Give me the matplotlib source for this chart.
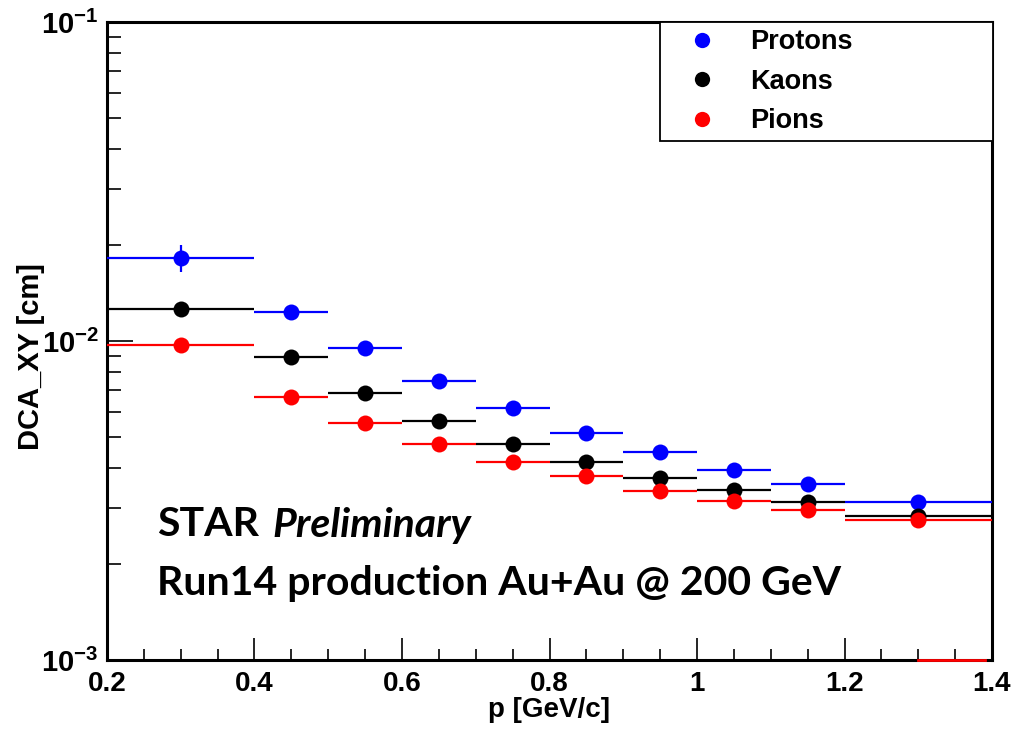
import numpy as np
import matplotlib
matplotlib.use('Agg')
import matplotlib.pyplot as plt
from matplotlib.ticker import LogLocator, FixedLocator, FuncFormatter, MultipleLocator, NullFormatter
from matplotlib.lines import Line2D

# ---- data ----
bin_low = [0.2, 0.4, 0.5, 0.6, 0.7, 0.8, 0.9, 1.0, 1.1, 1.2]
bin_high = [0.4, 0.5, 0.6, 0.7, 0.8, 0.9, 1.0, 1.1, 1.2, 1.4]
p_center = [0.3, 0.45, 0.55, 0.65, 0.75, 0.85, 0.95, 1.05, 1.15, 1.3]
protons = [0.0182, 0.0123, 0.0095, 0.0075, 0.00615, 0.00516, 0.00448, 0.00394, 0.00355, 0.00313]
protons_err = [0.0018, 0, 0, 0, 0, 0, 0, 0, 0, 0]
kaons = [0.0126, 0.00893, 0.00689, 0.00563, 0.00474, 0.00418, 0.00372, 0.00341, 0.00313, 0.00283]
pions = [0.00972, 0.00669, 0.00552, 0.00475, 0.00418, 0.00377, 0.00339, 0.00316, 0.00295, 0.00275]
pion_floor_x = [1.3, 1.39]   # stray red segment along the bottom frame
series_names = ['Protons', 'Kaons', 'Pions']
series_colors = ['#0000ff', '#000000', '#ff0000']

plt.rcParams['font.family'] = ['Liberation Sans', 'DejaVu Sans']
plt.rcParams['font.weight'] = 'bold'
plt.rcParams['mathtext.fontset'] = 'custom'
plt.rcParams['mathtext.rm'] = 'Liberation Sans:bold'
plt.rcParams['mathtext.bf'] = 'Liberation Sans:bold'
plt.rcParams['mathtext.it'] = 'Liberation Sans:bold:italic'

fig = plt.figure(figsize=(10.30, 7.36), dpi=100)
L, R, T, B = 107, 992, 22, 660
ax = fig.add_axes([L / 1030, 1 - B / 736, (R - L) / 1030, (B - T) / 736])

x = np.array(p_center)
xlo = x - np.array(bin_low)
xhi = np.array(bin_high) - x
xerr = [xlo, xhi]

for vals, errs, col, z in [(protons, protons_err, series_colors[0], 3),
                           (kaons, None, series_colors[1], 4),
                           (pions, None, series_colors[2], 5)]:
    ax.errorbar(x, vals, xerr=xerr, yerr=errs, fmt='o', color=col, ecolor=col,
                markersize=11.5, elinewidth=1.6, capsize=2.6, capthick=1.6,
                markeredgewidth=0, zorder=z, clip_on=False)

ax.plot(pion_floor_x, [1e-3, 1e-3], color=series_colors[2], lw=2, clip_on=False, zorder=6)

ax.set_yscale('log')
ax.set_xlim(0.2, 1.4)
ax.set_ylim(1e-3, 1e-1)

ax.xaxis.set_major_locator(MultipleLocator(0.2))
ax.xaxis.set_minor_locator(MultipleLocator(0.05))
ax.xaxis.set_major_formatter(FuncFormatter(lambda v, p: ('%g' % round(v, 2))))
ax.yaxis.set_major_locator(FixedLocator([1e-3, 1e-2, 1e-1]))
ax.yaxis.set_minor_locator(LogLocator(base=10, subs=np.arange(2, 10)))
ax.yaxis.set_minor_formatter(NullFormatter())
ax.yaxis.set_major_formatter(FuncFormatter(lambda v, p: r'$\mathbf{10^{%d}}$' % int(round(np.log10(v)))))

ax.tick_params(axis='x', which='major', direction='in', length=16, width=1.2, labelsize=20, pad=8)
ax.tick_params(axis='x', which='minor', direction='in', length=8, width=1.2)
ax.tick_params(axis='y', which='major', direction='in', length=19, width=1.2, labelsize=21, pad=6)
ax.tick_params(axis='y', which='minor', direction='in', length=10, width=1.2)
for lab in ax.get_xticklabels() + ax.get_yticklabels():
    lab.set_fontweight('bold')
for s in ax.spines.values():
    s.set_linewidth(2.2)

ax.set_xlabel('p [GeV/c]', fontsize=20, fontweight='bold', labelpad=0)
ax.set_ylabel('DCA_XY [cm]', fontsize=21, fontweight='bold', va='center')
ax.yaxis.set_label_coords((31 - L) / (R - L), (B - 357) / (B - T))

handles = [Line2D([], [], marker='o', linestyle='none', color=c, markersize=11, markeredgewidth=0)
           for c in series_colors]
leg = fig.legend(handles, series_names, loc='upper left',
                 bbox_to_anchor=(660 / 1030, 1 - 141 / 736, (993 - 660) / 1030, (141 - 22) / 736),
                 mode='expand', fancybox=False, framealpha=1, edgecolor='black',
                 prop={'family': 'Liberation Sans', 'weight': 'bold', 'size': 19.5},
                 handlelength=2.6, handletextpad=0.47, labelspacing=0.5, borderpad=0.26,
                 borderaxespad=0)
leg.get_frame().set_linewidth(1.3)
leg.set_zorder(10)

fig.text(157 / 1030, 1 - 525 / 736, 'STAR', fontsize=29.5, fontweight='bold', family='Lato', va='center')
fig.text(272 / 1030, 1 - 525 / 736, 'Preliminary', fontsize=29.5, fontweight='bold', style='italic',
         family='Lato', va='center')
fig.text(157 / 1030, 1 - 583 / 736, 'Run14 production Au+Au @ 200 GeV', fontsize=29.5,
         fontweight='bold', family='Lato', va='center')

fig.savefig('out.png', dpi=100)
